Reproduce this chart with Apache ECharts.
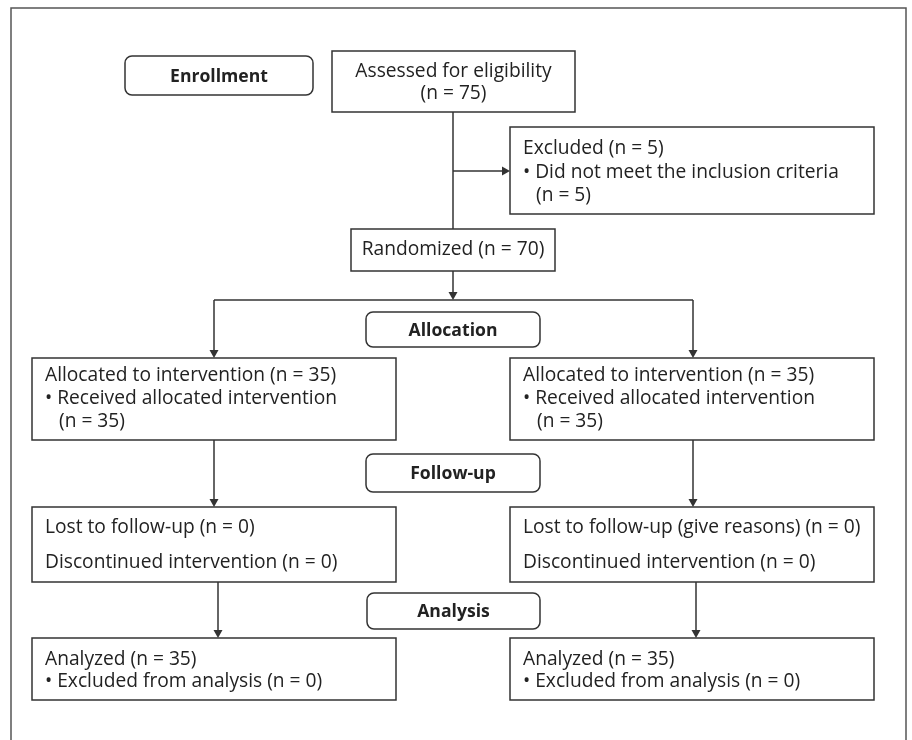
<!DOCTYPE html>
<html>
<head>
<meta charset="utf-8">
<script src="https://cdn.jsdelivr.net/npm/echarts@6/dist/echarts.min.js"></script>
<style>html,body{margin:0;padding:0;background:#fff}#c{width:912px;height:740px}</style>
</head>
<body>
<div id="c"></div>
<script>
// ---- data ----
const phases = ['Enrollment', 'Allocation', 'Follow-up', 'Analysis'];
const assessedN = [75];
const excludedN = [5];
const excludedReasonN = [5];
const randomizedN = [70];
const allocatedN = [35, 35];
const receivedN = [35, 35];
const lostLabels = ['Lost to follow-up', 'Lost to follow-up (give reasons)'];
const lostN = [0, 0];
const discontinuedN = [0, 0];
const analyzedN = [35, 35];
const excludedAnalysisN = [0, 0];

// ---- layout ----
const FONT = '19.2px "Open Sans", "Noto Sans", sans-serif';
const BOLD = 'bold 17.6px "Open Sans", "Noto Sans", sans-serif';
const TXT = '#222';
const LINE = '#333';
const LW = 1.5;
const DY = 1;
const els = [];

function box(x, y, w, h, r) {
  els.push({type: 'rect', shape: {x: x, y: y, width: w, height: h, r: r || 0},
    style: {fill: '#fff', stroke: LINE, lineWidth: LW}, z: 2});
}
function text(t, x, y, align, font) {
  els.push({type: 'text', x: x, y: y + DY, style: {text: t, font: font || FONT, fill: TXT,
    align: align || 'left', verticalAlign: 'middle'}, z: 3});
}
function line(pts) {
  els.push({type: 'polyline', shape: {points: pts}, style: {stroke: LINE, lineWidth: LW, fill: null}, z: 1});
}
function arrowDown(x, y1, y2) {
  line([[x, y1], [x, y2 - 7]]);
  els.push({type: 'polygon', shape: {points: [[x - 4.5, y2 - 8], [x + 4.5, y2 - 8], [x, y2]]},
    style: {fill: LINE}, z: 3});
}
function arrowRight(x1, x2, y) {
  line([[x1, y], [x2 - 7, y]]);
  els.push({type: 'polygon', shape: {points: [[x2 - 8, y - 4.5], [x2 - 8, y + 4.5], [x2, y]]},
    style: {fill: LINE}, z: 3});
}

// outer frame
els.push({type: 'rect', shape: {x: 11, y: 8, width: 895, height: 800},
  style: {fill: null, stroke: '#555', lineWidth: 1.5}, z: 0});

// phase labels
const phaseBoxes = [[125, 56, 188, 39], [366, 312, 174, 35], [366, 454, 174, 38], [367, 593, 173, 36]];
phases.forEach(function (p, i) {
  const b = phaseBoxes[i];
  box(b[0], b[1], b[2], b[3], 7);
  text(p, b[0] + b[2] / 2, b[1] + b[3] / 2, 'center', BOLD);
});

// enrollment
box(332, 51, 243, 61);
text('Assessed for eligibility', 453.5, 71, 'center');
text('(n = ' + assessedN[0] + ')', 453.5, 93, 'center');

box(510, 127, 364, 87);
text('Excluded (n = ' + excludedN[0] + ')', 523, 148);
text('\u2022 Did not meet the inclusion criteria', 523, 172);
text('(n = ' + excludedReasonN[0] + ')', 536, 195);

box(351, 229, 204, 42);
text('Randomized (n = ' + randomizedN[0] + ')', 453, 249, 'center');

line([[453, 112], [453, 229]]);
arrowRight(453, 510, 171);
arrowDown(453, 271, 300);
line([[214, 300], [693, 300]]);

// arms
const armX = [32, 510];
const armW = 364;
const armLine = [[214, 218], [693, 696]];
[0, 1].forEach(function (i) {
  const x = armX[i];
  const tx = x + 13;
  arrowDown(armLine[i][0], 300, 358);
  box(x, 358, armW, 82);
  text('Allocated to intervention (n = ' + allocatedN[i] + ')', tx, 375);
  text('\u2022 Received allocated intervention', tx, 398);
  text('(n = ' + receivedN[i] + ')', tx + 14, 421);

  arrowDown(armLine[i][0], 440, 507);
  box(x, 507, armW, 75);
  text(lostLabels[i] + ' (n = ' + lostN[i] + ')', tx, 527);
  text('Discontinued intervention (n = ' + discontinuedN[i] + ')', tx, 562);

  arrowDown(armLine[i][1], 582, 638);
  box(x, 638, armW, 62);
  text('Analyzed (n = ' + analyzedN[i] + ')', tx, 659);
  text('\u2022 Excluded from analysis (n = ' + excludedAnalysisN[i] + ')', tx, 681);
});

const chart = echarts.init(document.getElementById('c'), null, {renderer: 'canvas'});
chart.setOption({backgroundColor: '#fff', animation: false, graphic: {elements: els}});
</script>
</body>
</html>
